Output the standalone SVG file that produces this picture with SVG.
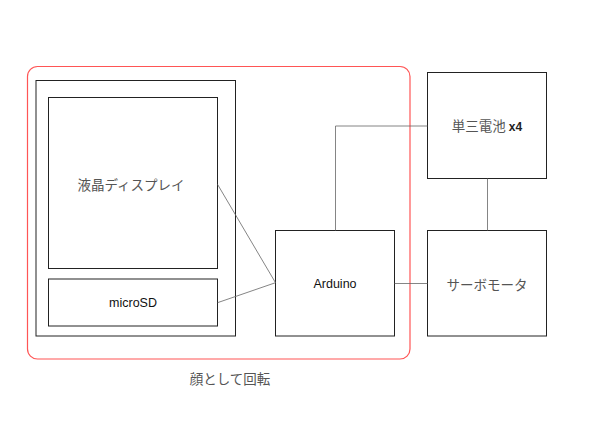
<svg xmlns="http://www.w3.org/2000/svg" width="596" height="447" viewBox="0 0 596 447">
<style>
.box{fill:#fff;stroke:#222;stroke-width:1}
.ln{fill:none;stroke:#666;stroke-width:0.8}
.jp{font-family:"Noto Sans CJK JP","Liberation Sans",sans-serif;font-size:13.5px;fill:#555;text-anchor:middle;dominant-baseline:central}
.en{font-family:"Liberation Sans","Noto Sans CJK JP",sans-serif;font-size:12.5px;fill:#111;text-anchor:middle;dominant-baseline:central}
</style>
<rect width="596" height="447" fill="#fff"/>
<g id="face">
<rect x="27.5" y="66.5" width="382.5" height="292.5" rx="10" ry="10" fill="none" stroke="#f55" stroke-width="1.2"/>
<text class="jp" x="230" y="378">顔として回転</text>
</g>
<g id="frame"><rect class="box" x="36" y="80.5" width="199.5" height="255.5"/></g>
<g id="lcd"><rect class="box" x="48.5" y="97.5" width="169" height="171"/><text class="jp" x="131" y="184">液晶ディスプレイ</text></g>
<g id="microsd"><rect class="box" x="48.5" y="279" width="169" height="47"/><text class="en" x="133" y="302.5">microSD</text></g>
<g id="arduino"><rect class="box" x="275.5" y="230.5" width="119" height="105.5"/><text class="en" x="335" y="283.5">Arduino</text></g>
<g id="battery"><rect class="box" x="427.5" y="72.5" width="119" height="106"/><text x="487" y="131" style="font-family:'Noto Sans CJK JP','Liberation Sans',sans-serif;font-size:13.5px;fill:#555;text-anchor:middle">単三電池 <tspan style="font-family:'Liberation Sans',sans-serif;font-weight:bold;font-size:12px;fill:#222">x4</tspan></text></g>
<g id="servo"><rect class="box" x="427.5" y="230.5" width="119" height="105.5"/><text class="jp" x="487" y="283.5">サーボモータ</text></g>
<g id="connectors">
<path class="ln" d="M217.5 184.3 L275.5 282.7"/>
<path class="ln" d="M217.5 302.7 L275.5 282.7"/>
<path class="ln" d="M335.5 230.5 V126 H427.5"/>
<path class="ln" d="M394.5 283.5 H427.5"/>
<path class="ln" d="M487.5 178.5 V230.5"/>
</g>
</svg>
